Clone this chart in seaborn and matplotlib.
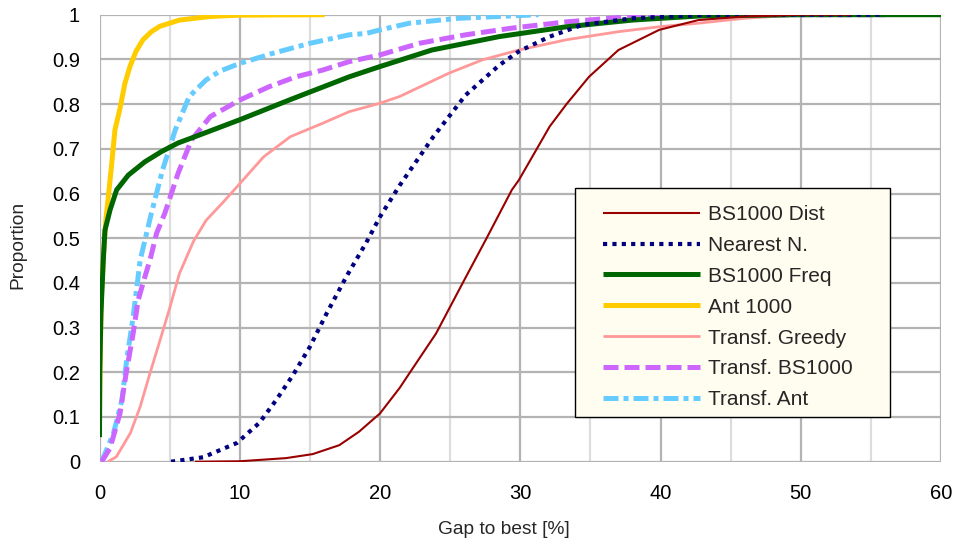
import matplotlib
matplotlib.use("Agg")
import matplotlib.pyplot as plt
import seaborn as sns
import pandas as pd
from matplotlib.lines import Line2D
from matplotlib.patches import Rectangle

# ---- data ----
series_names = ["BS1000 Dist", "Nearest N.", "BS1000 Freq", "Ant 1000",
                "Transf. Greedy", "Transf. BS1000", "Transf. Ant"]

bs_dist_x = [6.8, 10, 13.3, 15.2, 17.1, 18.5, 20, 21.4, 22.1, 24, 25.9, 27.6, 29.4, 29.9,
             32.1, 33.3, 34.9, 37.0, 39.9, 42.7, 46, 50, 53.6]
bs_dist_y = [0, 0.001, 0.008, 0.017, 0.037, 0.067, 0.108, 0.165, 0.198, 0.287, 0.4, 0.5,
             0.608, 0.63, 0.75, 0.80, 0.861, 0.921, 0.966, 0.988, 0.996, 1.0, 1.0]

nn_x = [5.1, 7.4, 9.8, 11.4, 12.6, 13.8, 15.0, 16.2, 17.6, 19.0, 20.0, 21.4, 23.8, 26.1,
        28.5, 29.9, 32.1, 34.4, 38.0, 42.7, 48, 55.7]
nn_y = [0, 0.01, 0.042, 0.087, 0.138, 0.194, 0.257, 0.332, 0.414, 0.489, 0.548, 0.618,
        0.727, 0.82, 0.887, 0.918, 0.951, 0.977, 0.992, 0.999, 1.0, 1.0]

bs_freq_x = [0, 0.02, 0.1, 0.27, 0.39, 0.75, 1.22, 2.05, 3.24, 4.43, 5.6, 6.8, 10.0, 13.6,
             17.8, 20, 23.7, 28.5, 33.3, 38.0, 42.7, 50, 60]
bs_freq_y = [0.055, 0.2, 0.33, 0.451, 0.518, 0.563, 0.608, 0.641, 0.671, 0.694, 0.713,
             0.727, 0.765, 0.81, 0.861, 0.884, 0.921, 0.951, 0.973, 0.988, 0.997, 1.0, 1.0]

ant_x = [0, 0.05, 0.15, 0.3, 0.45, 0.63, 0.85, 1.1, 1.46, 1.8, 2.17, 2.6, 3.1, 3.7, 4.3,
         5.7, 7.9, 10, 16.05]
ant_y = [0.1, 0.25, 0.38, 0.47, 0.54, 0.593, 0.66, 0.742, 0.79, 0.845, 0.884, 0.918, 0.944,
         0.962, 0.974, 0.988, 0.996, 0.999, 1.0]

tg_x = [0.6, 1.2, 2.2, 2.9, 3.6, 4.3, 5.0, 5.7, 6.7, 7.6, 8.8, 10.0, 11.7, 13.6, 15.9, 17.8,
        20.0, 21.4, 24.9, 27.3, 29.9, 33.3, 37.0, 39.9, 42.7, 46, 50]
tg_y = [0, 0.011, 0.064, 0.123, 0.198, 0.27, 0.343, 0.421, 0.493, 0.54, 0.58, 0.622, 0.682,
        0.727, 0.757, 0.783, 0.802, 0.817, 0.869, 0.899, 0.921, 0.944, 0.962, 0.973, 0.981,
        0.992, 1.0]

tbs_x = [0.15, 0.75, 1.46, 1.9, 2.4, 2.76, 3.24, 3.6, 4.07, 4.66, 5.6, 6.56, 7.9, 10, 12.1,
         14.0, 15.9, 17.8, 20, 22.8, 26.1, 29.4, 33.3, 38.0, 42.7, 50, 56]
tbs_y = [0, 0.03, 0.108, 0.198, 0.287, 0.362, 0.414, 0.451, 0.511, 0.556, 0.645, 0.72,
         0.772, 0.809, 0.839, 0.861, 0.876, 0.895, 0.91, 0.936, 0.955, 0.97, 0.984, 0.996,
         0.999, 1.0, 1.0]

tant_x = [0.15, 1.0, 1.6, 1.94, 2.4, 2.9, 3.7, 4.5, 5.4, 6.4, 7.6, 8.6, 10, 12.4,
          15.0, 17.8, 19.0, 20, 22.1, 25.6, 31.3]
tant_y = [0, 0.064, 0.138, 0.228, 0.324, 0.451, 0.556, 0.653, 0.742, 0.817, 0.854, 0.874,
          0.891, 0.914, 0.936, 0.955, 0.958, 0.966, 0.981, 0.992, 1.0]

x_ticks = [0, 10, 20, 30, 40, 50, 60]
y_ticks = [0, 0.1, 0.2, 0.3, 0.4, 0.5, 0.6, 0.7, 0.8, 0.9, 1.0]
y_tick_labels = ["0", "0.1", "0.2", "0.3", "0.4", "0.5", "0.6", "0.7", "0.8", "0.9", "1"]

# ---- styles ----
styles = {
    "BS1000 Dist":    dict(color="#990000", lw=1.5, ls="-"),
    "Nearest N.":     dict(color="#000080", lw=3.0, ls=(0, (1.0, 1.25))),
    "BS1000 Freq":    dict(color="#006600", lw=3.6, ls="-"),
    "Ant 1000":       dict(color="#ffcc00", lw=3.6, ls="-"),
    "Transf. Greedy": dict(color="#ff9999", lw=2.0, ls="-"),
    "Transf. BS1000": dict(color="#cc66ff", lw=3.6, ls=(0, (3.0, 1.2))),
    "Transf. Ant":    dict(color="#66ccff", lw=3.6, ls=(0, (3.0, 1.0, 1.0, 1.0))),
}

data = {
    "BS1000 Dist": (bs_dist_x, bs_dist_y),
    "Nearest N.": (nn_x, nn_y),
    "BS1000 Freq": (bs_freq_x, bs_freq_y),
    "Ant 1000": (ant_x, ant_y),
    "Transf. Greedy": (tg_x, tg_y),
    "Transf. BS1000": (tbs_x, tbs_y),
    "Transf. Ant": (tant_x, tant_y),
}

sns.set_style("white")
plt.rcParams["font.family"] = ["Liberation Sans", "DejaVu Sans"]

fig = plt.figure(figsize=(9.6, 5.5), dpi=100)
ax = fig.add_axes([99.5 / 960, 1 - 461.7 / 550, 841.5 / 960, 447 / 550])

n = len(series_names)
for i, name in enumerate(series_names):
    xs, ys = data[name]
    st = styles[name]
    df = pd.DataFrame({"x": xs, "y": ys})
    sns.lineplot(data=df, x="x", y="y", ax=ax, estimator=None, sort=False,
                 color=st["color"], linewidth=st["lw"], linestyle=st["ls"],
                 zorder=10 + (n - i), legend=False,
                 solid_capstyle="butt", dash_capstyle="butt")

ax.set_xlim(0, 60)
ax.set_ylim(0, 1)
ax.set_xticks(x_ticks)
ax.set_xticks([5, 15, 25, 35, 45, 55], minor=True)
ax.set_yticks(y_ticks)
ax.set_yticklabels(y_tick_labels)
ax.grid(True, which="major", color="#b3b3b3", linewidth=1.6, zorder=0)
ax.grid(True, which="minor", axis="x", color="#dddddd", linewidth=1.6, zorder=0)
ax.set_axisbelow(True)
for sp in ax.spines.values():
    sp.set_visible(False)
ax.tick_params(axis="both", which="major", direction="out", length=9, width=1.5,
               color="#b3b3b3", labelsize=14.5, pad=5, labelcolor="black")
ax.tick_params(axis="both", which="minor", length=0)
ax.tick_params(axis="x", pad=7)
ax.set_xlabel("Gap to best [%]", fontsize=13.8)
ax.set_ylabel("Proportion", fontsize=13.8)
ax.xaxis.set_label_coords((504 - 99.5) / 841.5, (461.7 - 530) / 447)
ax.yaxis.set_label_coords((18 - 99.5) / 841.5, (461.7 - 245) / 447)
ax.xaxis.label.set_va("center")
ax.yaxis.label.set_va("center")

# legend frame (drawn as a patch) + frameless legend
frame = Rectangle((0.565, 0.1), 0.3743, 0.5123, transform=ax.transAxes,
                  facecolor="#fffdf0", edgecolor="black", linewidth=1.0, zorder=40)
ax.add_patch(frame)

handles = [Line2D([0], [0], color=styles[nm]["color"], lw=styles[nm]["lw"],
                  ls=styles[nm]["ls"], solid_capstyle="butt", dash_capstyle="butt")
           for nm in series_names]
leg = ax.legend(handles, series_names, loc="upper left",
                bbox_to_anchor=((603 - 99.5) / 841.5, (461.7 - 205) / 447),
                fontsize=15, frameon=False, handlelength=4.65,
                handletextpad=0.38, labelspacing=0.57, borderpad=0,
                borderaxespad=0)
leg.set_zorder(50)

fig.savefig("out.png", dpi=100)
